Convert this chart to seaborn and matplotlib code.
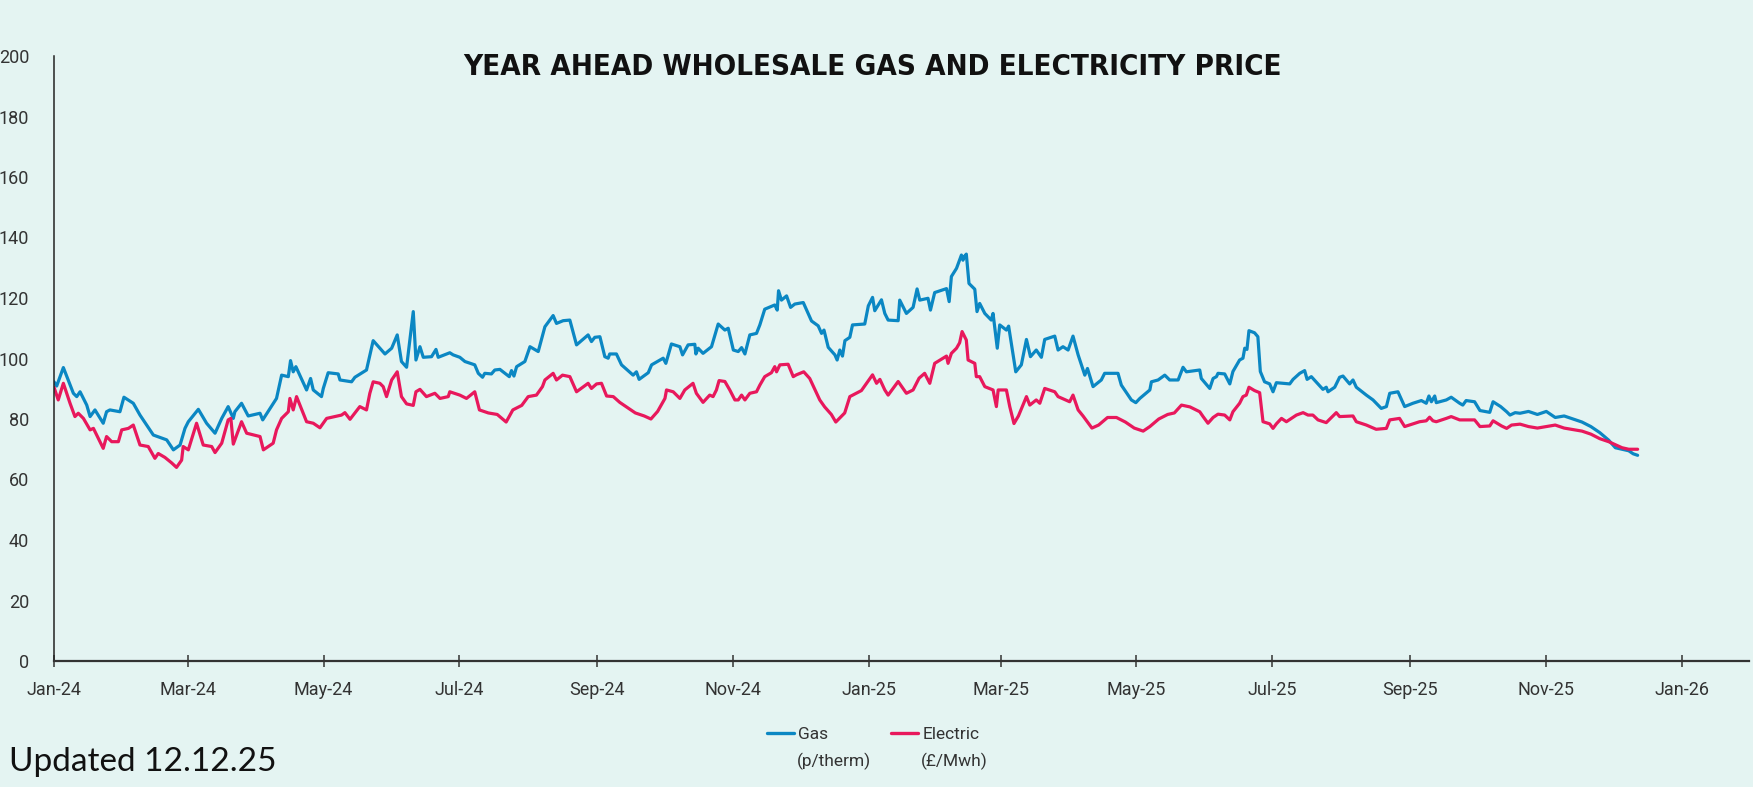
import matplotlib
matplotlib.use("Agg")
import matplotlib.pyplot as plt
import matplotlib.dates as mdates
from matplotlib import font_manager as fm
from matplotlib.lines import Line2D
import seaborn as sns
import pandas as pd

# ---------------- data ----------------
# x = days after 1 Jan 2024, y = price
start_date = "2024-01-01"

gas_days = [
    0, 1.2, 4.2, 8.7, 10.2, 11.7, 14.7, 16.2, 18.4, 22.1,
    23.6, 25.1, 29.6, 31.4, 35.6, 38.6, 44.6, 50.6, 53.6, 56.6,
    58.8, 60.3, 64.8, 68.5, 72.3, 75.3, 78.2, 80.5, 81.2, 84.2,
    87.2, 92.5, 93.7, 99.9, 102.2, 105.2, 106.2, 107.4, 108.6, 113.4,
    115.2, 116.4, 120.1, 120.9, 123.1, 127.6, 128.4, 133.6, 135.1, 140.3,
    143.3, 146.3,
    148.6, 151.6, 154.1, 156.0, 158.3, 161.3, 162.5, 164.3, 165.8, 169.5,
    171.5, 172.5, 177.7, 179.2, 182.2, 184.5, 188.9, 190.5, 192.4, 193.4,
    196.4, 197.9, 200.2, 204.4, 205.4, 206.5, 207.7, 211.4, 213.7, 217.4,
    220.4, 224.1, 225.6, 228.6, 231.6, 234.6, 239.8, 241.3, 242.8, 245.1,
    247.3, 248.8, 249.5, 252.5, 254.8, 260.0, 261.5, 262.7, 266.8, 268.3,
    273.5, 274.7, 277.2, 281.0, 282.2, 284.7, 287.7,
    288.2, 289.2, 291.4, 295.2, 298.2, 301.2, 302.7, 305.0, 307.2, 308.7,
    310.2, 312.4, 315.4, 316.9, 319.1, 323.6, 324.7, 325.3, 326.6, 328.9,
    330.7, 332.6, 336.4, 338.6, 340.1, 343.1, 344.6, 345.7, 347.6, 350.6,
    351.6, 352.8, 354.0, 355.1, 357.3, 358.5, 364.0, 365.6, 367.5, 368.5,
    371.5, 373.0, 374.5, 379.0, 379.7, 382.7, 385.7, 387.5, 388.7, 392.4,
    393.5, 395.4, 400.7, 401.9, 402.9, 405.2, 406.7,
    407.4, 408.1, 408.9, 409.6, 410.8, 413.4, 414.4, 415.6, 417.9, 420.8,
    421.6, 423.5, 424.6, 427.6, 428.6, 431.8, 434.3, 436.6, 438.4, 441.0,
    443.3, 444.8, 449.3, 450.8, 453.0, 455.3, 457.5, 459.8, 462.8, 464.0,
    466.5, 470.2, 471.7, 477.7, 479.2, 483.7, 485.7, 487.5, 492.0, 492.7,
    495.7, 498.7, 500.9, 504.7, 506.9, 508.4,
    514.4, 515.1, 518.9, 520.4, 521.9, 522.6, 525.6, 527.9, 529.3, 532.3,
    533.8, 534.6, 535.6, 536.5, 539.0, 540.5, 541.6, 543.5, 545.8, 547.3,
    548.8, 554.8, 556.3, 559.3, 561.5, 562.6, 564.5, 569.7, 571.2, 572.0,
    575.0, 577.2, 578.7, 581.7, 583.2, 584.7, 589.2, 592.2, 595.9, 598.2,
    599.7, 603.4, 606.4, 610.1, 613.9, 616.1, 617.3, 618.4, 619.9, 620.6,
    625.1, 627.3, 631.1, 632.5, 634.0, 637.8, 640.2, 644.6, 646.1, 649.5,
    652.2, 653.7, 656.0, 658.2,
    662, 666, 670, 674, 678, 682, 686, 690, 694, 698,
    701, 704, 707, 709, 711,
]
gas_values = [
    92.3, 90.9, 97.0, 88.5, 87.4, 89.0, 84.6, 80.8, 83.0, 78.6,
    82.4, 83.0, 82.4, 87.2, 85.2, 81.3, 74.7, 73.1, 69.8, 71.4,
    76.9, 79.1, 83.2, 78.6, 75.3, 80.2, 84.1, 80.2, 82.4, 85.2,
    81.0, 81.9, 79.7, 86.8, 94.5, 94.0, 99.3, 95.6, 97.3, 89.6,
    93.4, 89.6, 87.4, 90.1, 95.3, 94.9, 92.9, 92.3, 93.8, 96.2,
    105.9, 103.4,
    101.5, 103.4, 107.8, 99.0, 97.1, 115.5, 99.5, 103.9, 100.4, 100.6,
    103.0, 100.4, 101.9, 101.2, 100.4, 99.0, 97.9, 95.1, 93.8, 95.1,
    94.9, 96.2, 96.4, 94.0, 96.0, 94.2, 97.3, 99.0, 103.9, 102.3,
    110.5, 114.2, 111.6, 112.5, 112.7, 104.5, 107.8, 105.6, 107.0, 107.2,
    100.6, 100.1, 101.5, 101.5, 97.9, 94.5, 95.6, 93.1, 95.3, 97.9,
    100.1, 98.4, 104.8, 103.9, 101.2, 104.5, 104.7,
    101.5, 103.4, 101.7, 103.9, 111.4, 109.4, 110.0, 102.8, 102.3, 103.6,
    101.5, 107.8, 108.3, 111.1, 116.3, 117.7, 116.0, 122.4, 119.3, 120.7,
    116.9, 118.0, 118.5, 114.9, 112.4, 110.8, 108.3, 109.4, 103.7, 101.2,
    99.5, 102.8, 100.8, 105.9, 107.0, 111.1, 111.4, 117.4, 120.2, 115.8,
    119.4, 114.9, 112.7, 112.5, 119.3, 114.9, 116.9, 123.0, 119.3, 119.9,
    116.0, 121.8, 123.1, 118.8, 127.1, 129.8, 132.8,
    134.2, 132.5, 133.9, 134.5, 124.8, 122.9, 115.5, 118.2, 114.9, 112.7,
    114.9, 103.4, 111.1, 109.4, 110.7, 95.6, 97.9, 106.3, 100.6, 102.8,
    100.4, 106.3, 107.4, 102.8, 103.9, 102.8, 107.4, 101.2, 94.5, 96.7,
    90.7, 92.9, 95.1, 95.1, 91.2, 86.3, 85.4, 86.8, 89.6, 92.3,
    92.9, 94.5, 92.9, 92.9, 97.1, 95.6,
    96.2, 93.4, 90.1, 93.4, 94.0, 95.1, 94.9, 91.6, 95.7, 99.5,
    100.1, 103.4, 103.0, 109.2, 108.5, 107.2, 95.7, 92.3, 91.6, 89.0,
    92.0, 91.6, 93.1, 95.1, 96.0, 93.1, 94.0, 89.8, 90.5, 89.0,
    90.5, 93.8, 94.2, 91.6, 92.9, 90.5, 87.9, 86.3, 83.5, 84.1,
    88.5, 89.0, 84.1, 85.2, 86.1, 85.2, 87.6, 85.7, 87.6, 85.4,
    86.3, 87.2, 85.2, 84.6, 86.1, 85.7, 82.8, 82.2, 85.7, 84.1,
    82.4, 81.3, 82.1, 81.9,
    82.5, 81.5, 82.5, 80.5, 81.0, 80.0, 79.0, 77.5, 75.5, 73.0,
    70.5, 70.0, 69.5, 68.5, 68.0,
]

electric_days = [
    0, 1.9, 4.2, 7.2, 9.4, 10.9, 13.2, 16.2, 17.7, 19.9,
    22.1, 23.6, 25.9, 28.9, 30.4, 33.4, 35.6, 38.6, 42.3, 45.3,
    46.8, 49.8, 52.8, 55.0, 57.3, 58.0, 60.3, 64.0, 67.0, 70.8,
    72.3, 75.3, 78.2, 79.4, 80.5, 84.2, 86.5, 92.5, 94.0, 98.4,
    99.9, 102.2, 105.2, 105.9, 107.4, 108.9, 113.4, 116.4, 119.4, 122.4,
    129.1, 130.6, 132.9, 137.3, 140.3, 141.8, 143.3, 146.3,
    147.8, 149.3, 151.6, 154.1, 156.0, 158.3, 161.3, 162.5, 164.3, 167.2,
    171.0, 173.3, 177.0, 177.7, 182.2, 185.2, 188.9, 191.0, 195.0, 199.0,
    203.0, 206.0, 210.0, 212.9, 216.6, 219.3, 220.4, 224.1, 225.6, 228.3,
    231.6, 234.6, 239.8, 241.3, 243.6, 245.8, 248.1, 251.1, 254.0, 257.0,
    261.0, 265.0, 268.0, 271.0, 274.3, 275.0, 278.0, 281.0, 283.2, 286.9,
    288.4,
    291.4, 294.4, 295.9, 297.4, 298.6, 301.2, 303.4, 305.7, 307.2, 308.7,
    310.2, 312.4, 315.4, 316.9, 319.1, 322.1, 323.6, 324.4, 325.9, 329.6,
    331.9, 333.3, 336.6, 339.3, 343.8, 346.0, 349.0, 351.0, 353.0, 355.0,
    357.3, 362.5, 364.8, 367.5, 369.3, 370.8, 373.0, 374.5, 379.0, 382.7,
    385.7, 387.2, 388.4, 390.9, 393.2, 395.4, 400.7, 401.4, 402.9, 405.2,
    406.6, 407.7, 409.6, 410.4, 413.4, 414.1, 415.6, 417.9, 421.6, 423.1,
    423.9, 427.6, 429.1, 431.0, 433.0, 436.6, 438.1, 441.0, 442.6, 444.8,
    449.3, 450.8, 456.0, 457.5, 459.8, 462.0, 466.0, 469.0, 473.0, 477.0,
    481.0, 485.0, 489.0, 492.0, 496.0, 500.0, 503.0, 506.2, 510.0,
    514.4, 515.9, 518.1, 520.4, 522.6, 525.6, 527.9, 529.3, 532.3, 533.8,
    535.3, 536.5, 539.0, 541.3, 542.8, 545.8, 547.3, 548.8, 551.1, 553.3,
    557.8, 560.8, 563.0, 565.2, 567.5, 571.2, 575.7, 577.2, 583.2, 584.7,
    589.2, 593.6, 598.2, 599.7, 604.1, 606.4, 610.1, 613.1, 616.1, 617.6,
    619.1, 620.6, 625.1, 627.3, 631.1, 634.0, 637.8, 640.2, 644.6, 646.1,
    649.9, 652.2, 654.4, 658.2,
    662, 666, 670, 674, 678, 682, 686, 690, 694, 698,
    701, 704, 707, 709, 711,
]
electric_values = [
    90.5, 86.3, 91.8, 85.2, 80.8, 81.9, 80.2, 76.4, 76.9, 73.6,
    70.3, 74.2, 72.5, 72.5, 76.4, 76.9, 78.0, 71.4, 70.9, 67.0,
    68.6, 67.3, 65.5, 64.0, 66.4, 70.9, 69.8, 78.6, 71.4, 70.9,
    68.9, 72.0, 79.7, 80.2, 71.7, 79.1, 75.3, 74.2, 69.8, 72.0,
    76.4, 80.2, 82.4, 86.8, 83.0, 87.4, 79.1, 78.6, 77.1, 80.2,
    81.3, 82.1, 79.9, 84.1, 83.0, 88.5, 92.3, 91.8,
    90.7, 87.4, 92.9, 95.6, 87.4, 85.0, 84.5, 89.0, 89.8, 87.4,
    88.5, 86.8, 87.4, 89.0, 87.9, 86.8, 89.0, 83.0, 82.0, 81.5,
    79.0, 83.0, 84.5, 87.4, 87.9, 90.7, 92.9, 95.1, 92.9, 94.5,
    94.0, 89.0, 91.8, 90.1, 91.6, 91.8, 87.6, 87.4, 85.5, 84.0,
    82.0, 81.0, 80.0, 82.5, 86.8, 89.6, 89.0, 86.8, 89.6, 91.8,
    88.5,
    85.5, 87.9, 87.4, 89.6, 92.7, 92.4, 89.6, 86.3, 86.3, 87.9,
    86.3, 88.5, 89.0, 91.2, 94.0, 95.3, 97.3, 95.6, 97.9, 98.1,
    94.0, 94.6, 95.6, 93.4, 86.3, 84.0, 81.5, 79.0, 80.5, 82.0,
    87.4, 89.4, 91.8, 94.6, 91.8, 93.1, 89.6, 87.9, 92.4, 88.5,
    89.6, 91.8, 93.5, 95.1, 91.8, 98.4, 100.8, 98.4, 101.7, 103.4,
    105.2, 108.9, 106.1, 99.5, 98.4, 94.0, 94.0, 90.7, 89.6, 84.1,
    89.6, 89.6, 84.1, 78.5, 81.0, 87.4, 84.6, 86.3, 85.2, 90.1,
    89.0, 87.4, 85.7, 87.9, 83.0, 81.0, 77.0, 78.0, 80.5, 80.5,
    79.0, 77.0, 76.0, 77.5, 80.0, 81.5, 82.0, 84.6, 84.0,
    82.4, 80.8, 78.6, 80.5, 81.6, 81.3, 79.7, 82.4, 85.2, 87.4,
    87.9, 90.5, 89.4, 88.7, 79.1, 78.4, 76.9, 78.4, 80.2, 79.1,
    81.3, 82.1, 81.3, 81.3, 79.7, 78.8, 82.1, 80.8, 81.0, 79.1,
    78.0, 76.6, 76.9, 79.7, 80.2, 77.5, 78.4, 79.1, 79.4, 80.6,
    79.4, 79.1, 80.2, 80.8, 79.7, 79.7, 79.7, 77.5, 77.7, 79.4,
    77.7, 76.9, 78.0, 78.3,
    77.5, 77.0, 77.5, 78.0, 77.0, 76.5, 76.0, 75.0, 73.5, 72.5,
    71.5, 70.5, 70.0, 70.0, 70.0,
]

series_names = ["Gas", "Electric"]
series_units = ["(p/therm)", "(£/Mwh)"]
y_ticks = list(range(0, 201, 20))
title_text = "YEAR AHEAD WHOLESALE GAS AND ELECTRICITY PRICE"
note_text = "Updated 12.12.25"

assert len(gas_days) == len(gas_values)
assert len(electric_days) == len(electric_values)

t0 = pd.Timestamp(start_date)
gas_df = pd.DataFrame({"date": t0 + pd.to_timedelta(gas_days, unit="D"),
                       "value": gas_values, "series": "Gas"})
elec_df = pd.DataFrame({"date": t0 + pd.to_timedelta(electric_days, unit="D"),
                        "value": electric_values, "series": "Electric"})
long = pd.concat([gas_df, elec_df], ignore_index=True)

# ---------------- style ----------------
sns.set_theme(style="white")
ttf = fm.fontManager.ttflist
available = {f.name for f in ttf}


def pick(*names):
    for n in names:
        if n in available:
            return n
    return "DejaVu Sans"


# condensed bold font for the title, if one is installed
cond = [f for f in ttf
        if (f.stretch in ("condensed", "semi-condensed", "extra-condensed", "ultra-condensed")
            or "Condensed" in f.name or "Narrow" in f.name)]
cond_bold = [f for f in cond if (isinstance(f.weight, int) and f.weight >= 600)
             or str(f.weight) in ("bold", "heavy", "black", "semibold", "demibold")]
if cond_bold:
    title_prop = fm.FontProperties(fname=cond_bold[0].fname)
else:
    title_prop = fm.FontProperties(family=pick("Roboto", "DejaVu Sans"), weight="bold")

tick_font = pick("Roboto", "DejaVu Sans")
note_font = pick("Lato", "Open Sans", "DejaVu Sans")
plt.rcParams["font.family"] = [tick_font, "DejaVu Sans"]

BG = "#E4F4F2"
GAS_C = "#0B87C3"
ELEC_C = "#E8185C"
TXT = "#333333"
W, H = 1753, 787

fig = plt.figure(figsize=(W / 100, H / 100), dpi=100, facecolor=BG)
ax = fig.add_axes([54 / W, 1 - 661 / H, (1749 - 54) / W, (661 - 56) / H])
ax.set_facecolor(BG)

sns.lineplot(data=long, x="date", y="value", hue="series",
             palette={"Gas": GAS_C, "Electric": ELEC_C},
             hue_order=["Gas", "Electric"], estimator=None, sort=True,
             linewidth=2.3, ax=ax, legend=False)

ax.set_xlim(pd.Timestamp("2024-01-01"), pd.Timestamp("2026-01-31"))
ax.set_ylim(0, 200)
ax.set_yticks(y_ticks)
ax.xaxis.set_major_locator(mdates.MonthLocator(bymonth=[1, 3, 5, 7, 9, 11]))
ax.xaxis.set_major_formatter(mdates.DateFormatter("%b-%y"))
ax.tick_params(axis="x", direction="inout", length=8.6, width=1.1, color=TXT,
               pad=10, labelsize=13, labelcolor=TXT, bottom=True)
ax.tick_params(axis="y", length=0, pad=18, labelsize=13, labelcolor=TXT)
for s in ["top", "right"]:
    ax.spines[s].set_visible(False)
ax.spines["left"].set_color("#222222")
ax.spines["left"].set_linewidth(1.1)
ax.spines["bottom"].set_color(TXT)
ax.spines["bottom"].set_linewidth(1.6)
ax.set_xlabel("")
ax.set_ylabel("")

title = fig.text(872 / W, 1 - 67 / H, title_text, ha="center", va="center",
                 fontproperties=title_prop, color="#111111")
title.set_fontsize(26)
fig.canvas.draw()
tw = title.get_window_extent().width
title.set_fontsize(min(34, 26 * 821 / tw))

# legends (one per series, with unit line below)
for name, unit, col, x0 in zip(series_names, series_units, [GAS_C, ELEC_C], [767, 891]):
    h = Line2D([], [], color=col, lw=2.4)
    fig.legend([h], [name], loc="center left",
               bbox_to_anchor=(x0 / W, 1 - 734.5 / H), frameon=False,
               borderpad=0, borderaxespad=0, handlelength=1.55,
               handletextpad=0.25, fontsize=12.5, labelcolor=TXT)
    fig.text((x0 + 30) / W, 1 - 761 / H, unit, ha="left", va="center",
             fontsize=12.5, color=TXT)

fig.text(9 / W, 1 - 762 / H, note_text, ha="left", va="center",
         fontsize=24, family=[note_font, "DejaVu Sans"], color="#111111")

fig.savefig("out.png", dpi=100, facecolor=BG)
